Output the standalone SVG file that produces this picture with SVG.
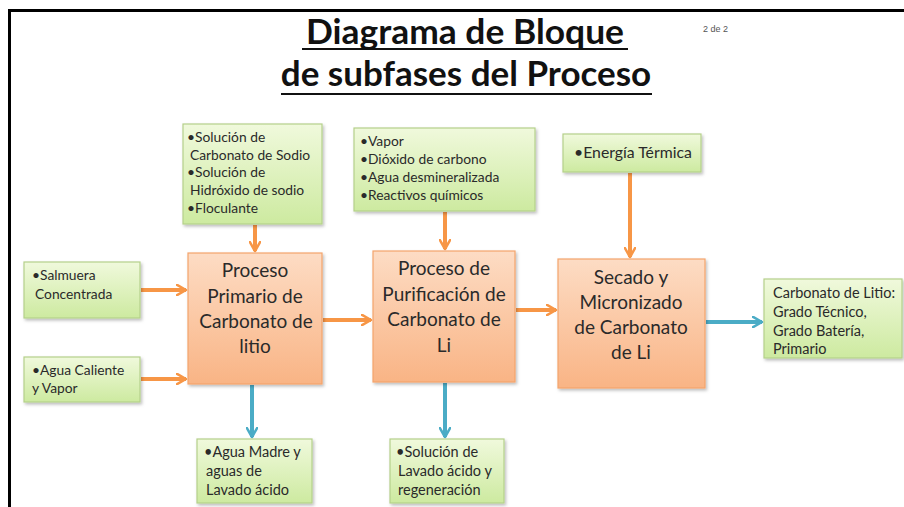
<svg xmlns="http://www.w3.org/2000/svg" width="904" height="507" viewBox="0 0 904 507">
<defs>
<linearGradient id="gGreen" x1="0" y1="0" x2="0" y2="1">
<stop offset="0" stop-color="#f0f9dc"/>
<stop offset="1" stop-color="#cdeaa0"/>
</linearGradient>
<linearGradient id="gOrange" x1="0" y1="0" x2="0" y2="1">
<stop offset="0" stop-color="#fddcc4"/>
<stop offset="1" stop-color="#f9b485"/>
</linearGradient>
<filter id="sh" x="-10%" y="-10%" width="130%" height="130%">
<feDropShadow dx="1.5" dy="2" stdDeviation="1.5" flood-color="#000" flood-opacity="0.25"/>
</filter>
<marker id="ao" viewBox="0 0 10 10" refX="8" refY="5" markerWidth="3.2" markerHeight="3.2" orient="auto" markerUnits="strokeWidth">
<path d="M1,1 L8,5 L1,9" fill="none" stroke="#f79646" stroke-width="2" stroke-linecap="round" stroke-linejoin="round"/>
</marker>
<marker id="ab" viewBox="0 0 10 10" refX="8" refY="5" markerWidth="3.2" markerHeight="3.2" orient="auto" markerUnits="strokeWidth">
<path d="M1,1 L8,5 L1,9" fill="none" stroke="#4bacc6" stroke-width="2" stroke-linecap="round" stroke-linejoin="round"/>
</marker>
</defs>
<style>
.g{fill:url(#gGreen);stroke:#b5d08a;stroke-width:1.2;filter:url(#sh)}
.o{fill:url(#gOrange);stroke:#f3a46c;stroke-width:1.2;filter:url(#sh)}
.t{font-family:Lato,"Open Sans",sans-serif;font-size:13.8px;fill:#2a2a2a}
.t2{font-family:Lato,"Open Sans",sans-serif;font-size:14.5px;fill:#2a2a2a}
.p{font-family:Lato,"Open Sans",sans-serif;font-size:19px;fill:#2a2a2a;text-anchor:middle}
.title{font-family:Lato,"Open Sans",sans-serif;font-size:35px;font-weight:bold;fill:#111;text-anchor:middle}
.co{stroke:#f79646;stroke-width:4;fill:none;marker-end:url(#ao)}
.cb{stroke:#4bacc6;stroke-width:4;fill:none;marker-end:url(#ab)}
</style>
<rect width="904" height="507" fill="#fff"/>
<path d="M9.5,507 V10.5 H904" fill="none" stroke="#000" stroke-width="3"/>
<g id="title">
<text class="title" x="465" y="44" textLength="318" lengthAdjust="spacingAndGlyphs">Diagrama de Bloque</text>
<line x1="302" y1="49" x2="628" y2="49" stroke="#111" stroke-width="2"/>
<text class="title" x="466" y="86">de subfases del Proceso</text>
<line x1="281" y1="94" x2="652" y2="94" stroke="#111" stroke-width="2"/>
<text x="703" y="32" font-family="Liberation Sans Narrow,Liberation Sans,sans-serif" font-size="9" fill="#555">2 de 2</text>
</g>
<g id="connectors">
<line class="co" x1="255" y1="225" x2="255" y2="251"/>
<line class="co" x1="445" y1="212" x2="445" y2="249"/>
<line class="co" x1="630" y1="173" x2="630" y2="257"/>
<line class="co" x1="141" y1="290" x2="186" y2="290"/>
<line class="co" x1="141" y1="379" x2="186" y2="379"/>
<line class="co" x1="323" y1="320" x2="371" y2="320"/>
<line class="co" x1="516" y1="310" x2="556" y2="310"/>
<line class="cb" x1="706" y1="322" x2="762" y2="322"/>
<line class="cb" x1="252" y1="385" x2="252" y2="437"/>
<line class="cb" x1="445" y1="383" x2="445" y2="437"/>
</g>
<g id="in-reactivos1">
<rect class="g" x="183" y="124" width="139" height="100"/>
<text class="t" x="187" y="142">•Solución de</text>
<text class="t" x="190" y="160">Carbonato de Sodio</text>
<text class="t" x="187" y="177">•Solución de</text>
<text class="t" x="190" y="195">Hidróxido de sodio</text>
<text class="t" x="187" y="213">•Floculante</text>
</g>
<g id="in-reactivos2">
<rect class="g" x="354" y="128" width="181" height="83"/>
<text class="t" x="360" y="146">•Vapor</text>
<text class="t" x="360" y="164">•Dióxido de carbono</text>
<text class="t" x="360" y="182">•Agua desmineralizada</text>
<text class="t" x="360" y="200">•Reactivos químicos</text>
</g>
<g id="in-energia">
<rect class="g" x="563" y="134" width="138" height="38"/>
<text class="t" x="574" y="158" style="font-size:15.8px">•Energía Térmica</text>
</g>
<g id="in-salmuera">
<rect class="g" x="24" y="262" width="116" height="56"/>
<text class="t" x="32" y="280">•Salmuera</text>
<text class="t" x="35" y="299">Concentrada</text>
</g>
<g id="in-agua">
<rect class="g" x="24" y="357" width="116" height="45"/>
<text class="t" x="32" y="375">•Agua Caliente</text>
<text class="t" x="32" y="393">y Vapor</text>
</g>
<g id="proc1">
<rect class="o" x="188" y="253" width="134" height="131"/>
<text class="p" x="255" y="277">Proceso</text>
<text class="p" x="255" y="303">Primario de</text>
<text class="p" x="256" y="328">Carbonato de</text>
<text class="p" x="255" y="353">litio</text>
</g>
<g id="proc2">
<rect class="o" x="373" y="251" width="142" height="131"/>
<text class="p" x="444" y="275">Proceso de</text>
<text class="p" x="444" y="301">Purificación de</text>
<text class="p" x="444" y="326">Carbonato de</text>
<text class="p" x="444" y="352">Li</text>
</g>
<g id="proc3">
<rect class="o" x="558" y="259" width="147" height="129"/>
<text class="p" x="631" y="284">Secado y</text>
<text class="p" x="631" y="309">Micronizado</text>
<text class="p" x="631" y="334">de Carbonato</text>
<text class="p" x="631" y="359">de Li</text>
</g>
<g id="out-producto">
<rect class="g" x="764" y="279" width="138" height="79"/>
<text class="t2" x="773" y="298">Carbonato de Litio:</text>
<text class="t2" x="773" y="317">Grado Técnico,</text>
<text class="t2" x="773" y="336">Grado Batería,</text>
<text class="t2" x="773" y="354">Primario</text>
</g>
<g id="out-agua-madre">
<rect class="g" x="197" y="439" width="115" height="64"/>
<text class="t2" x="204" y="457">•Agua Madre y</text>
<text class="t2" x="206" y="476">aguas de</text>
<text class="t2" x="206" y="495">Lavado ácido</text>
</g>
<g id="out-solucion">
<rect class="g" x="390" y="439" width="114" height="64"/>
<text class="t2" x="396" y="457">•Solución de</text>
<text class="t2" x="398" y="476">Lavado  ácido y</text>
<text class="t2" x="398" y="495">regeneración</text>
</g>
</svg>
